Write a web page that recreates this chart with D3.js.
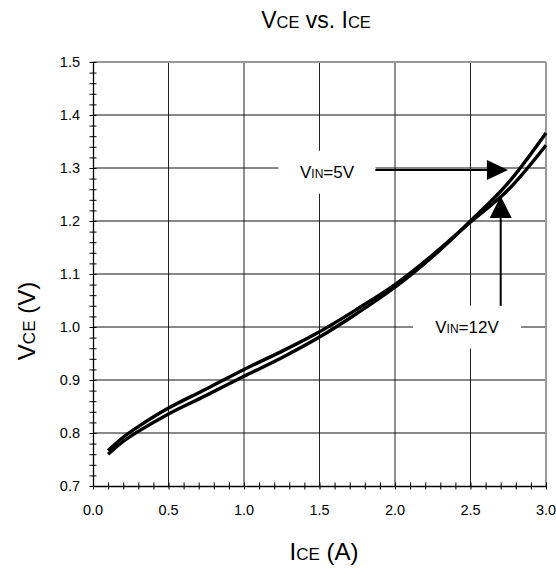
<!DOCTYPE html>
<html><head><meta charset="utf-8">
<script src="https://cdn.jsdelivr.net/npm/d3@7"></script>
<style>body{margin:0;background:#fff}svg{display:block}text{font-family:"Liberation Sans",Arial,sans-serif;fill:#000}</style>
</head><body>
<svg id="c" width="556" height="569"></svg>
<script>
// Data
const current = [0.1, 0.2, 0.3, 0.5, 0.75, 1.0, 1.25, 1.5, 1.75, 2.0, 2.25, 2.5, 2.75, 3.0];
const vin12 = [0.767, 0.792, 0.812, 0.847, 0.883, 0.920, 0.954, 0.991, 1.034, 1.080, 1.136, 1.198, 1.259, 1.343];
const vin5  = [0.760, 0.784, 0.803, 0.836, 0.871, 0.907, 0.942, 0.981, 1.026, 1.075, 1.133, 1.200, 1.272, 1.366];
const xTicks = [0.0, 0.5, 1.0, 1.5, 2.0, 2.5, 3.0];
const yTicks = [0.7, 0.8, 0.9, 1.0, 1.1, 1.2, 1.3, 1.4, 1.5];
const labelNames = [["V","IN","=5V"], ["V","IN","=12V"]];
const labelPos = [[1.55, 1.292], [2.477, 1.0]];
const arrowFrom = [[1.87, 1.296], [2.70, 1.04]];
const arrowTo = [[2.748, 1.296], [2.70, 1.247]];

const svg = d3.select("#c");
const x = d3.scaleLinear().domain([0, 3]).range([93, 546]);
const y = d3.scaleLinear().domain([0.7, 1.5]).range([486, 62]);

// grid
const g = svg.append("g");
xTicks.slice(1, -1).forEach(t => g.append("line").attr("x1", x(t)).attr("x2", x(t)).attr("y1", y(0.7)).attr("y2", y(1.5)).attr("stroke", "#222").attr("stroke-width", 1));
yTicks.slice(1, -1).forEach(t => g.append("line").attr("x1", x(0)).attr("x2", x(3)).attr("y1", y(t)).attr("y2", y(t)).attr("stroke", "#111").attr("stroke-width", 1));
g.append("line").attr("x1", x(0)).attr("x2", x(3)).attr("y1", y(1.5)).attr("y2", y(1.5)).attr("stroke", "#999").attr("stroke-width", 2);
g.append("line").attr("x1", x(3)).attr("x2", x(3)).attr("y1", y(0.7)).attr("y2", y(1.5)).attr("stroke", "#999").attr("stroke-width", 2);

// label boxes (white, hide grid)
const boxW = [97, 108], boxH = [43, 43];
labelPos.forEach((p, i) => {
  svg.append("rect").attr("x", x(p[0]) - boxW[i] / 2).attr("y", y(p[1]) - boxH[i] / 2)
    .attr("width", boxW[i]).attr("height", boxH[i]).attr("fill", "#fff");
});

// axes
const xAxis = d3.axisBottom(x).tickValues(d3.range(0, 31).map(d => d / 10)).tickSize(0).tickFormat("");
const xa = svg.append("g").attr("transform", `translate(0,${y(0.7)})`).call(xAxis);
xa.select(".domain").attr("stroke", "#000").attr("stroke-width", 1.3);
xa.selectAll(".tick line").attr("y1", -3.5).attr("y2", 3.5).attr("stroke", "#000");
const yAxis = d3.axisLeft(y).tickValues(d3.range(35, 76).map(d => d / 50)).tickSize(0).tickFormat("");
const ya = svg.append("g").attr("transform", `translate(${x(0)},0)`).call(yAxis);
ya.select(".domain").attr("stroke", "#000").attr("stroke-width", 1.3);
ya.selectAll(".tick line").attr("x1", -3.5).attr("x2", 3.5).attr("stroke", "#000");

// tick labels
xTicks.forEach(t => svg.append("text").attr("x", x(t)).attr("y", 515).attr("text-anchor", "middle").attr("font-size", 14.5).text(t.toFixed(1)));
yTicks.forEach(t => svg.append("text").attr("x", 80).attr("y", y(t) + 5).attr("text-anchor", "end").attr("font-size", 14.5).text(t.toFixed(1)));

function subText(sel, parts, big, small) {
  parts.forEach((p, i) => sel.append("tspan").attr("font-size", (i % 2 === 1) ? small : big).text(p));
}
subText(svg.append("text").attr("x", 316).attr("y", 28).attr("text-anchor", "middle"), ["V", "CE", " vs. I", "CE"], 23, 16.5);
subText(svg.append("text").attr("x", 324).attr("y", 560).attr("text-anchor", "middle"), ["I", "CE", " (A)"], 24, 17);
subText(svg.append("text").attr("transform", "translate(35,321) rotate(-90)").attr("text-anchor", "middle"), ["V", "CE", " (V)"], 24, 17);

labelPos.forEach((p, i) => {
  subText(svg.append("text").attr("x", x(p[0])).attr("y", y(p[1]) + 6).attr("text-anchor", "middle"), labelNames[i], 17, 12);
});

// arrows
const heads = [[21, 10], [22, 11]];
arrowFrom.forEach((f, i) => {
  const t = arrowTo[i];
  const x1 = x(f[0]), y1 = y(f[1]), x2 = x(t[0]), y2 = y(t[1]);
  const dx = x2 - x1, dy = y2 - y1, L = Math.hypot(dx, dy), ux = dx / L, uy = dy / L;
  const [hl, hw] = heads[i];
  const bx = x2 - ux * hl, by = y2 - uy * hl;
  svg.append("line").attr("x1", x1).attr("y1", y1).attr("x2", bx).attr("y2", by).attr("stroke", "#000").attr("stroke-width", 2);
  svg.append("path").attr("d", `M${x2},${y2}L${bx - uy * hw},${by + ux * hw}L${bx + uy * hw},${by - ux * hw}Z`).attr("fill", "#000");
});

// curves
const line = d3.line().x(d => x(d[0])).y(d => y(d[1])).curve(d3.curveCatmullRom.alpha(0.5));
[vin12, vin5].forEach(s => {
  svg.append("path").datum(current.map((c, i) => [c, s[i]])).attr("d", line)
    .attr("fill", "none").attr("stroke", "#000").attr("stroke-width", 3.4).attr("stroke-linejoin", "round");
});
</script>
</body></html>
